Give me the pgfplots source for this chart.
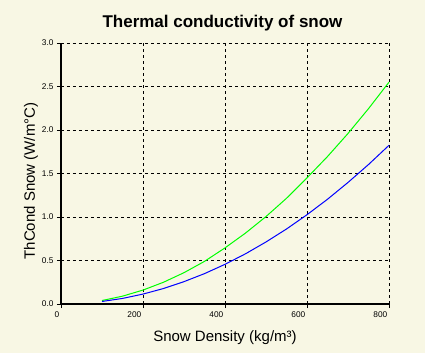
\documentclass[border=0pt]{standalone}
\usepackage{pgfplots}
\pgfplotsset{compat=1.18}
\usepackage{fontspec}
\setmainfont{Liberation Sans}
\definecolor{bgc}{RGB}{248,247,228}
\definecolor{gr}{RGB}{0,255,0}
\definecolor{bl}{RGB}{0,0,255}
\begin{document}
\begin{tikzpicture}[x=1pt,y=1pt]
\fill[bgc] (-61,-49) rectangle (364,304);
\node[font=\fontsize{17}{19}\selectfont\bfseries, anchor=base, inner sep=0pt] at (161.5,276.3) {Thermal conductivity of snow};
\begin{axis}[
  at={(0,0)}, anchor=south west,
  scale only axis, width=328pt, height=261pt,
  xmin=0, xmax=800, ymin=0, ymax=3,
  axis lines=left, axis line style={-, line width=1.2pt, black},
  xtick={0,200,400,600,800}, ytick={0,0.5,1,1.5,2,2.5,3},
  tick align=outside, major tick length=4pt,
  tick style={black, line width=0.8pt},
  grid=major, major grid style={black, line width=0.8pt, dash pattern=on 3pt off 3pt},
  /pgf/number format/assume math mode=true,
  yticklabel style={/pgf/number format/.cd, fixed, fixed zerofill, precision=1},
  ticklabel style={font=\fontsize{8.3}{9}\selectfont},
  xticklabel style={anchor=north east, xshift=1.8pt},
  xlabel={Snow Density (kg/m³)},
  ylabel={ThCond Snow (W/m°C)},
  label style={font=\fontsize{15}{17}\selectfont},
  xlabel style={at={(axis description cs:0.5,0)}, anchor=base, yshift=-37pt, inner sep=0pt},
  ylabel style={at={(axis description cs:0,0.471)}, anchor=base, yshift=26pt, inner sep=0pt},
  clip=false,
]
\addplot[gr, line width=1pt] coordinates {
(100,0.040) (150,0.090) (200,0.160) (250,0.250) (300,0.360) (350,0.490)
(400,0.645) (450,0.815) (500,1.005) (550,1.215) (600,1.450) (650,1.695)
(700,1.960) (750,2.245) (800,2.550)};
\addplot[bl, line width=1pt] coordinates {
(100,0.029) (150,0.064) (200,0.114) (250,0.178) (300,0.257) (350,0.349)
(400,0.456) (450,0.577) (500,0.713) (550,0.862) (600,1.026) (650,1.204)
(700,1.397) (750,1.603) (800,1.824)};
\end{axis}
\end{tikzpicture}
\end{document}
